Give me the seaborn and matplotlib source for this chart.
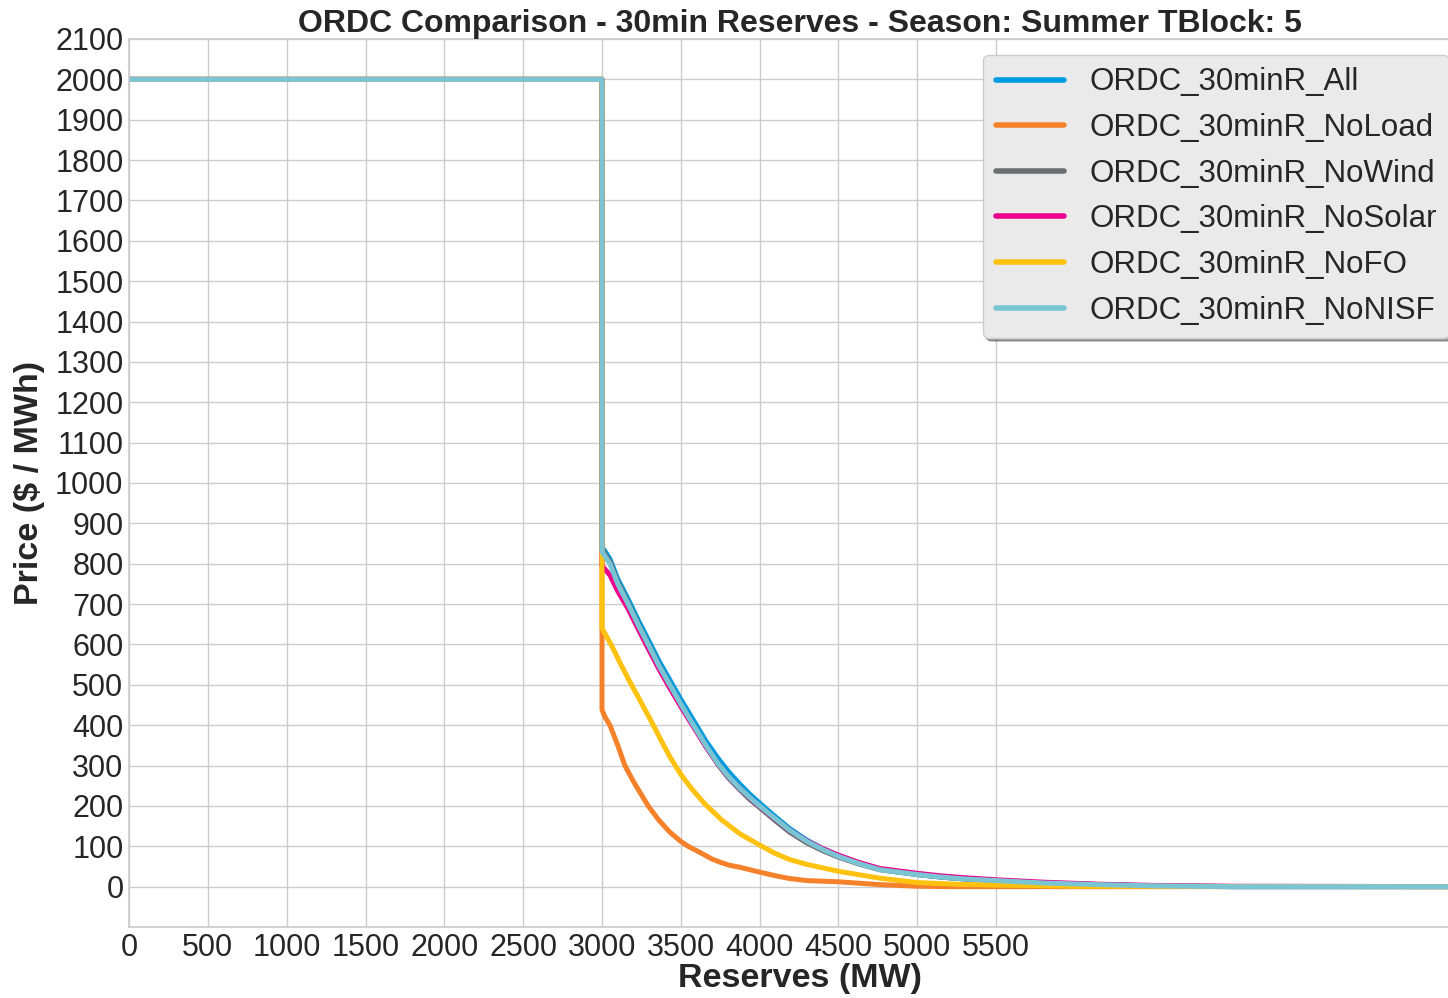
import matplotlib
matplotlib.use("Agg")
import matplotlib.pyplot as plt
import seaborn as sns

# ---- data ----
series_names = ["ORDC_30minR_All", "ORDC_30minR_NoLoad", "ORDC_30minR_NoWind",
                "ORDC_30minR_NoSolar", "ORDC_30minR_NoFO", "ORDC_30minR_NoNISF"]
colors = ["#009ADE", "#F5822A", "#6D6E71", "#EC008C", "#FFC20E", "#7AC5D3"]

x_common = [0, 3000, 3000, 3050, 3100, 3166, 3230, 3293, 3360, 3430, 3500, 3580, 3660,
            3736, 3800, 3874, 3940, 4000, 4100, 4190, 4300, 4400, 4500, 4630, 4761,
            5000, 5142, 5300, 5500, 5800, 6156, 6500, 7000, 8600]
y_all = [2000, 2000, 842, 812, 762, 712, 660, 612, 560, 512, 464, 412, 360,
         318, 286, 254, 228, 207, 173, 144, 115, 94, 77, 58, 43,
         30, 24, 19, 15, 9, 5, 2, 0, 0]
y_nowind = [2000, 2000, 835, 805, 754, 703, 650, 601, 549, 500, 451, 399, 347,
            302, 270, 240, 215, 196, 163, 135, 108, 89, 73, 56, 42,
            30, 24, 19, 15, 9, 5, 2, 0, 0]
y_nosolar = [2000, 2000, 795, 772, 732, 688, 638, 590, 540, 492, 446, 396, 346,
             304, 273, 244, 219, 199, 167, 140, 113, 94, 78, 60, 45,
             33, 27, 22, 17, 11, 6, 3, 1, 0]
y_nonisf = [2000, 2000, 830, 800, 750, 700, 648, 600, 548, 500, 452, 400, 349,
            305, 274, 244, 220, 200, 168, 140, 112, 92, 75, 57, 42,
            30, 24, 19, 15, 9, 5, 2, 0, 0]

x_noload = [0, 3000, 3000, 3000, 3018, 3050, 3100, 3145, 3200, 3293, 3360, 3430, 3500,
            3546, 3620, 3700, 3760, 3808, 3874, 4000, 4100, 4190, 4300, 4500, 4760,
            5000, 5200, 8600]
y_noload = [2000, 2000, 640, 438, 421, 400, 350, 300, 260, 200, 165, 135, 112,
            100, 85, 68, 59, 53, 48, 36, 27, 20, 15, 12, 5,
            1, 0, 0]

x_nofo = [0, 3000, 3000, 3000, 3060, 3120, 3187, 3250, 3315, 3370, 3430, 3500, 3570,
          3652, 3760, 3874, 4000, 4100, 4191, 4300, 4500, 4761, 5000, 5250, 5500,
          6000, 8600]
y_nofo = [2000, 2000, 818, 640, 598, 550, 500, 455, 408, 366, 322, 278, 242,
          205, 165, 131, 103, 82, 67, 55, 38, 21, 10, 6, 4,
          1, 0]

xs = [x_common, x_noload, x_common, x_common, x_nofo, x_common]
ys = [y_all, y_noload, y_nowind, y_nosolar, y_nofo, y_nonisf]

x_ticks = [0, 500, 1000, 1500, 2000, 2500, 3000, 3500, 4000, 4500, 5000, 5500]
y_ticks = list(range(0, 2101, 100))

title = "ORDC Comparison - 30min Reserves - Season: Summer TBlock: 5"

# ---- style ----
sns.set_theme(style="whitegrid")
plt.rcParams["font.family"] = ["Liberation Sans", "DejaVu Sans"]

fig = plt.figure(figsize=(14.48, 9.98), dpi=100)
ax = fig.add_axes([129 / 1448, 1 - 927 / 998, (1471 - 129) / 1448, (927 - 39) / 998])

for name, c, x, y in zip(series_names, colors, xs, ys):
    sns.lineplot(x=x, y=y, color=c, label=name, sort=False, estimator=None,
                 linewidth=3.6, ax=ax)

ax.set_xlim(0, (1471 - 129) / ((602 - 129) / 3000))
ax.set_ylim(-100, 2100)
ax.set_xticks(x_ticks)
ax.set_yticks(y_ticks)
ax.tick_params(axis="both", labelsize=22, length=0, pad=4, colors="#262626")
ax.set_xlabel("Reserves (MW)", fontsize=24.5, fontweight="bold", labelpad=0, color="#262626")
ax.set_ylabel("Price ($ / MWh)", fontsize=24.5, fontweight="bold", labelpad=7, color="#262626")
ax.set_title(title, fontsize=23, fontweight="bold", pad=5, color="#262626")

leg = ax.legend(loc="upper left", bbox_to_anchor=(983 / 1448, 1 - 55 / 998),
                bbox_transform=fig.transFigure, borderaxespad=0, fontsize=22.5,
                handlelength=2.2, labelspacing=0.5, frameon=True, shadow=True,
                facecolor="#EAEAEA", framealpha=1.0, edgecolor="#CCCCCC")
for line in leg.get_lines():
    line.set_linewidth(4)

fig.savefig("out.png", dpi=100)
